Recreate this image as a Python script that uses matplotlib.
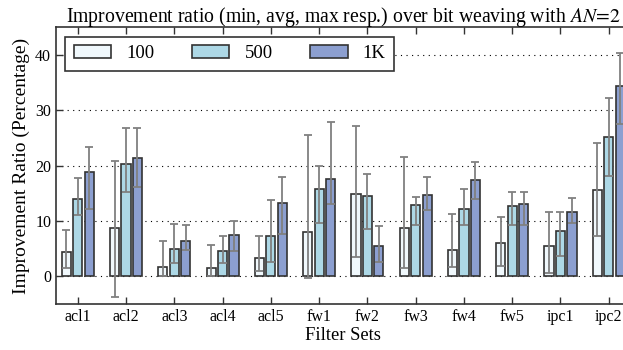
import matplotlib
matplotlib.use("Agg")
import matplotlib.pyplot as plt
import numpy as np

plt.rcParams['font.family'] = ['Liberation Serif', 'DejaVu Serif']
plt.rcParams['mathtext.fontset'] = 'stix'

categories = ["acl1", "acl2", "acl3", "acl4", "acl5", "fw1", "fw2", "fw3",
              "fw4", "fw5", "ipc1", "ipc2"]
series_names = ["100", "500", "1K"]

avg_100 = [4.3, 8.7, 1.6, 1.4, 3.3, 8.0, 14.9, 8.7, 4.8, 6.0, 5.5, 15.5]
min_100 = [1.5, -3.7, 0.1, 0.1, 1.0, -0.4, 3.5, 1.4, 1.7, 1.9, 0.6, 7.3]
max_100 = [8.4, 20.8, 6.4, 5.7, 7.2, 25.5, 27.2, 21.6, 11.3, 10.7, 11.6, 24.0]

avg_500 = [13.9, 20.3, 4.9, 4.5, 7.3, 15.7, 14.5, 12.8, 12.2, 12.6, 8.2, 25.1]
min_500 = [11.1, 15.2, 2.3, 2.3, 2.5, 9.7, 8.6, 9.3, 9.3, 9.2, 3.7, 18.1]
max_500 = [17.7, 26.7, 9.5, 7.3, 13.7, 19.9, 18.5, 14.4, 15.8, 15.2, 11.6, 32.3]

avg_1k = [18.9, 21.4, 6.3, 7.5, 13.3, 17.5, 5.5, 14.6, 17.3, 13.0, 11.6, 34.4]
min_1k = [12.1, 16.1, 4.7, 4.5, 7.6, 13.0, 2.5, 12.0, 14.0, 9.2, 9.7, 27.6]
max_1k = [23.3, 26.7, 9.3, 9.9, 18.0, 27.8, 9.1, 18.0, 20.6, 15.2, 14.2, 40.4]

colors = ['#f0f8fc', '#add8e6', '#8c9fd0']

fig = plt.figure(figsize=(6.23, 3.5), dpi=100)
ax = fig.add_axes([0.0899, 0.132, 1.012 - 0.0899, 0.922 - 0.132])

x = np.arange(len(categories))
width = 0.19
step = 0.237
data = [(avg_100, min_100, max_100), (avg_500, min_500, max_500),
        (avg_1k, min_1k, max_1k)]
for i, (avg, mn, mx) in enumerate(data):
    avg = np.array(avg); mn = np.array(mn); mx = np.array(mx)
    pos = x + (i - 1) * step
    ax.bar(pos, avg, width, color=colors[i], edgecolor='#333333',
           linewidth=1.2, label=series_names[i], zorder=2)
    ax.errorbar(pos, avg, yerr=[avg - mn, mx - avg], fmt='none',
                ecolor='#808080', elinewidth=1.3, capsize=3, capthick=1.3,
                zorder=3)

ax.set_xlim(-0.45, len(categories) - 1 + 0.45)
ax.set_ylim(-5, 45)
ax.set_yticks([0, 10, 20, 30, 40])
ax.set_xticks(x)
ax.set_xticklabels(categories)
ax.yaxis.grid(True, linestyle=(0, (1, 4)), color='black', linewidth=0.8)
ax.set_axisbelow(True)
ax.tick_params(direction='in', top=True, right=True, labelsize=11.5,
               length=5, width=1, color='#333333')
for s in ax.spines.values():
    s.set_linewidth(1.2)
    s.set_color('#333333')

ax.set_xlabel("Filter Sets", fontsize=13.3, labelpad=2)
ax.set_ylabel("Improvement Ratio (Percentage)", fontsize=14, labelpad=4)
ax.set_title("Improvement ratio (min, avg, max resp.) over bit weaving with $AN\\!=\\!2$",
             fontsize=14.2, pad=4)

leg = ax.legend(loc='upper left', ncol=3, fontsize=13.5, fancybox=False,
                edgecolor='#333333', framealpha=1, handlelength=2.0,
                handleheight=0.7, columnspacing=2.0, borderpad=0.45,
                bbox_to_anchor=(0.0, 1.0), borderaxespad=0.5)
leg.get_frame().set_linewidth(1.2)

fig.savefig("out.png", dpi=100)
